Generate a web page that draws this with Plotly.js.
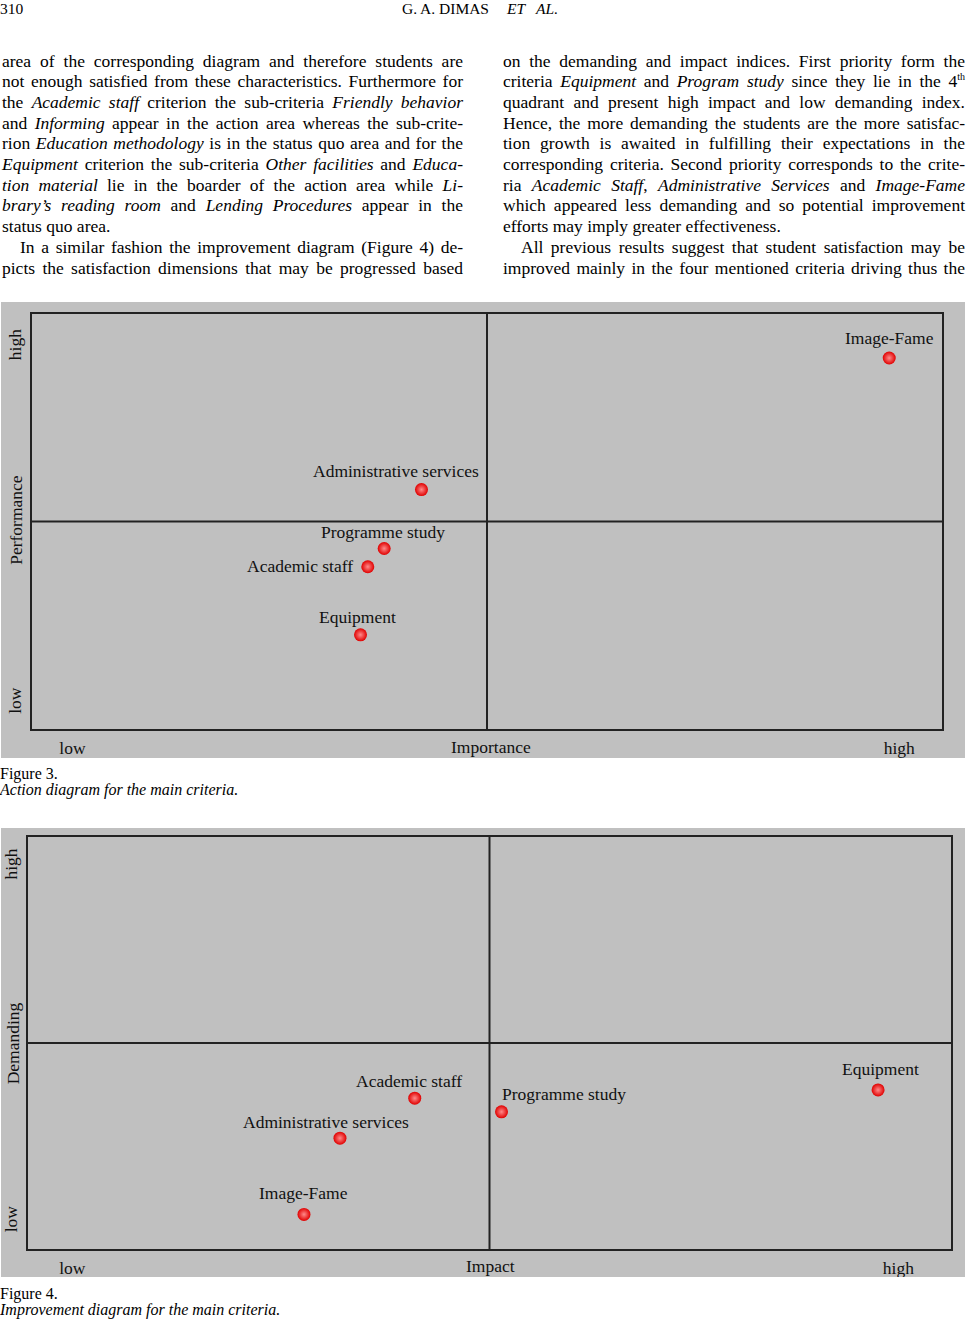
<!DOCTYPE html>
<html><head><meta charset="utf-8">
<script src="https://cdn.plot.ly/plotly-3.0.1.min.js"></script>
<style>
body{margin:0;background:#fff;width:966px;height:1324px;position:relative;overflow:hidden;font-family:"Liberation Serif","Times New Roman",serif;color:#000;}
.abs{position:absolute;white-space:nowrap;}
.col{position:absolute;top:50.5px;font-size:17.5px;line-height:20.7px;}
.col div{text-align:justify;text-align-last:justify;}
.col div.last{text-align-last:left;}
.col div.ind{text-indent:18px;}
.cap{position:absolute;left:0;font-size:16px;line-height:16px;white-space:nowrap;}
sup{font-size:10px;line-height:0;vertical-align:7px;}
#fig3,#fig4{position:absolute;left:1px;width:964px;}
#fig3{top:302px;height:456px;}
#fig4{top:828px;height:449px;}
</style>
</head><body>
<div class="abs" style="left:0;top:0;font-size:15.5px;line-height:18px;">310</div>
<div class="abs" style="left:402px;top:0;font-size:15.5px;line-height:18px;">G. A. DIMAS<span style="display:inline-block;width:18px"></span><i>ET</i><span style="display:inline-block;width:11px"></span><i>AL.</i></div>

<div class="col" style="left:2px;width:461px;">
<div>area of the corresponding diagram and therefore students are</div>
<div>not enough satisfied from these characteristics. Furthermore for</div>
<div>the <i>Academic staff</i> criterion the sub-criteria <i>Friendly behavior</i></div>
<div>and <i>Informing</i> appear in the action area whereas the sub-crite-</div>
<div>rion <i>Education methodology</i> is in the status quo area and for the</div>
<div><i>Equipment</i> criterion the sub-criteria <i>Other facilities</i> and <i>Educa-</i></div>
<div><i>tion material</i> lie in the boarder of the action area while <i>Li-</i></div>
<div><i>brary’s reading room</i> and <i>Lending Procedures</i> appear in the</div>
<div class="last">status quo area.</div>
<div class="ind">In a similar fashion the improvement diagram (Figure 4) de-</div>
<div>picts the satisfaction dimensions that may be progressed based</div>
</div>

<div class="col" style="left:503px;width:462px;">
<div>on the demanding and impact indices. First priority form the</div>
<div>criteria <i>Equipment</i> and <i>Program study</i> since they lie in the 4<sup>th</sup></div>
<div>quadrant and present high impact and low demanding index.</div>
<div>Hence, the more demanding the students are the more satisfac-</div>
<div>tion growth is awaited in fulfilling their expectations in the</div>
<div>corresponding criteria. Second priority corresponds to the crite-</div>
<div>ria <i>Academic Staff</i>, <i>Administrative Services</i> and <i>Image-Fame</i></div>
<div>which appeared less demanding and so potential improvement</div>
<div class="last">efforts may imply greater effectiveness.</div>
<div class="ind">All previous results suggest that student satisfaction may be</div>
<div>improved mainly in the four mentioned criteria driving thus the</div>
</div>

<div id="fig3"></div>
<div class="cap" style="top:766px;">Figure 3.</div>
<div class="cap" style="top:782px;"><i>Action diagram for the main criteria.</i></div>

<div id="fig4"></div>
<div class="cap" style="top:1286px;">Figure 4.</div>
<div class="cap" style="top:1302px;"><i>Improvement diagram for the main criteria.</i></div>

<script>
// ---- data ----
const fig3Criteria = ["Image-Fame", "Administrative services", "Programme study", "Academic staff", "Equipment"];
const fig3Importance = [94.2, 42.8, 38.7, 36.9, 36.1];
const fig3Performance = [89.4, 57.7, 43.5, 39.1, 22.7];

const fig4Criteria = ["Academic staff", "Administrative services", "Image-Fame", "Programme study", "Equipment"];
const fig4Impact = [41.9, 33.8, 29.9, 51.3, 92.1];
const fig4Demanding = [36.6, 26.9, 8.4, 33.3, 38.6];

const levelTicks = ["low", "high"];
const fig3Axes = {x: "Importance", y: "Performance"};
const fig4Axes = {x: "Impact", y: "Demanding"};
const quadrantSplit = 50;

// ---- styles ----
const FONT = {family: "Liberation Serif, Times New Roman, serif", size: 17.5, color: "#111"};
const LINE = "#222";
const BG = "#c0c0c0";

const fig3LabelStyle = [
  {xanchor: "center", xshift: 0.5, yshift: 20},
  {xanchor: "center", xshift: -25, yshift: 18.5},
  {xanchor: "center", xshift: -1.5, yshift: 16.5},
  {xanchor: "right", xshift: -13, yshift: 0.5},
  {xanchor: "center", xshift: -3.5, yshift: 17.5}
];
const fig4LabelStyle = [
  {xanchor: "center", xshift: -5.5, yshift: 17.5},
  {xanchor: "center", xshift: -13.5, yshift: 16.5},
  {xanchor: "center", xshift: 0, yshift: 21},
  {xanchor: "left", xshift: -2, yshift: 17.5},
  {xanchor: "center", xshift: 2.5, yshift: 20.5}
];

function makeFigure(el, names, xs, ys, labelStyle, axes, opts) {
  const trace = {
    type: "scatter", mode: "markers", x: xs, y: ys, hoverinfo: "skip",
    marker: {size: 13, color: "#e00000", line: {width: 0},
             gradient: {type: "radial", color: "#ff8a8a"}}
  };
  const ann = names.map((n, i) => Object.assign({
    x: xs[i], y: ys[i], xref: "x", yref: "y", text: n, showarrow: false,
    yanchor: "middle", font: FONT
  }, labelStyle[i]));
  ann.push({xref: "paper", yref: "paper", x: opts.xTitleX, y: 0, yanchor: "middle",
            yshift: opts.xTitleShift, text: axes.x, showarrow: false, font: FONT});
  ann.push({xref: "paper", yref: "paper", x: 0, y: opts.yTitleY, xanchor: "center",
            xshift: opts.yTitleShift, textangle: -90, text: axes.y, showarrow: false, font: FONT});
  const axBase = {range: [0, 100], showgrid: false, zeroline: false, showline: true, mirror: true,
                  linecolor: LINE, linewidth: 2, ticks: "", fixedrange: true, tickmode: "array",
                  ticktext: levelTicks, tickfont: FONT};
  const layout = {
    width: 964, height: opts.height, paper_bgcolor: BG, plot_bgcolor: BG, showlegend: false,
    margin: opts.margin,
    xaxis: Object.assign({}, axBase, {tickvals: opts.xTicks, ticklabelstandoff: opts.xStand}),
    yaxis: Object.assign({}, axBase, {tickvals: opts.yTicks, tickangle: -90, ticklabelstandoff: opts.yStand}),
    shapes: [
      {type: "line", xref: "x", yref: "paper", x0: quadrantSplit, x1: quadrantSplit, y0: 0, y1: 1, line: {color: LINE, width: 2}},
      {type: "line", xref: "paper", yref: "y", x0: 0, x1: 1, y0: quadrantSplit, y1: quadrantSplit, line: {color: LINE, width: 2}}
    ],
    annotations: ann
  };
  Plotly.newPlot(el, [trace], layout, {displayModeBar: false, staticPlot: true});
}

makeFigure("fig3", fig3Criteria, fig3Importance, fig3Performance, fig3LabelStyle, fig3Axes, {
  height: 456, margin: {l: 31, r: 23, t: 12, b: 29, pad: 0},
  xTicks: [4.45, 95.3], yTicks: [6.2, 92.0], xStand: 2, yStand: 2,
  xTitleX: 0.504, xTitleShift: -17.7, yTitleY: 0.504, yTitleShift: -16
});
makeFigure("fig4", fig4Criteria, fig4Impact, fig4Demanding, fig4LabelStyle, fig4Axes, {
  height: 449, margin: {l: 27, r: 14, t: 9, b: 28, pad: 0},
  xTicks: [4.8, 94.3], yTicks: [6.6, 92.8], xStand: 2, yStand: 2,
  xTitleX: 0.501, xTitleShift: -16.7, yTitleY: 0.5, yTitleShift: -14.7
});
</script>
</body></html>
